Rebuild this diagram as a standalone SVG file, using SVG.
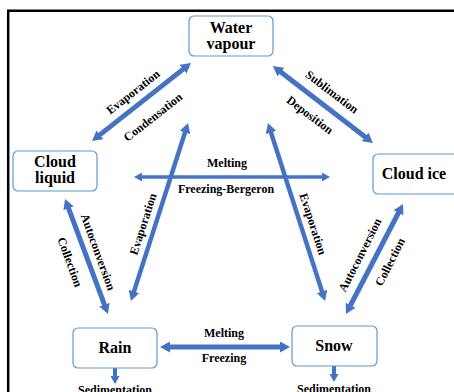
<svg xmlns="http://www.w3.org/2000/svg" width="454" height="392" viewBox="0 0 454 392">
<style>
.node rect{fill:#fff;stroke:#5B9BD5;stroke-width:1.2}
.nt{font-family:"Liberation Serif","Times New Roman",serif;font-weight:bold;font-size:16px;fill:#000;text-anchor:middle}
.lb{font-family:"Liberation Serif","Times New Roman",serif;font-weight:bold;font-size:12px;fill:#000;text-anchor:middle}
.ar{stroke:#4472C4;stroke-width:5;fill:none;marker-start:url(#ah);marker-end:url(#ah)}
.ar2{stroke:#4472C4;stroke-width:3.5;fill:none;marker-start:url(#am);marker-end:url(#am)}
.sd{stroke:#4472C4;stroke-width:4;fill:none;marker-end:url(#sh)}
</style>
<defs>
<marker id="ah" viewBox="0 0 10 11" markerUnits="userSpaceOnUse" markerWidth="10" markerHeight="11" refX="1" refY="5.5" orient="auto-start-reverse">
<path d="M0,0 L10,5.5 L0,11 z" fill="#4472C4"/>
</marker>
<marker id="am" viewBox="0 0 8 9" markerUnits="userSpaceOnUse" markerWidth="8" markerHeight="9" refX="1" refY="4.5" orient="auto-start-reverse">
<path d="M0,0 L8,4.5 L0,9 z" fill="#4472C4"/>
</marker>
<marker id="sh" viewBox="0 0 8 9" markerUnits="userSpaceOnUse" markerWidth="8" markerHeight="9" refX="1" refY="4.5" orient="auto">
<path d="M0,0 L8,4.5 L0,9 z" fill="#4472C4"/>
</marker>
</defs>
<rect width="454" height="392" fill="#fff"/>
<path d="M8.2,395 V10.7 H456" fill="none" stroke="#000" stroke-width="2.5"/>
<g id="connectors">
<line class="ar" x1="99.1" y1="135.4" x2="183.9" y2="68.6"/>
<line class="ar" x1="280.1" y1="71.5" x2="365.9" y2="137.5"/>
<line class="ar" x1="68.2" y1="207.4" x2="104.8" y2="305.6"/>
<line class="ar" style="stroke-width:4.5" x1="185.3" y1="131.6" x2="133.7" y2="292.4"/>
<line class="ar" style="stroke-width:4.5" x1="270.7" y1="131.6" x2="322.3" y2="292.4"/>
<line class="ar" x1="398.9" y1="212" x2="350.1" y2="306"/>
<line class="ar2" x1="141" y1="177" x2="323" y2="177"/>
<line class="ar" x1="169" y1="347" x2="281" y2="347"/>
<line class="sd" x1="115" y1="368" x2="115" y2="377"/>
<line class="sd" x1="334" y1="366" x2="334" y2="375"/>
<text class="lb" transform="translate(133,92) rotate(-38)" y="4">Evaporation</text>
<text class="lb" transform="translate(153,117) rotate(-38)" y="4">Condensation</text>
<text class="lb" transform="translate(332,92) rotate(37)" y="4">Sublimation</text>
<text class="lb" transform="translate(310,115) rotate(37)" y="4">Deposition</text>
<text class="lb" transform="translate(98,252) rotate(70)" y="4">Autoconversion</text>
<text class="lb" transform="translate(70,262) rotate(70)" y="4">Collection</text>
<text class="lb" transform="translate(143,224) rotate(-72)" y="4">Evaporation</text>
<text class="lb" transform="translate(313,224) rotate(72)" y="4">Evaporation</text>
<text class="lb" transform="translate(360,255) rotate(-63)" y="4">Autoconversion</text>
<text class="lb" transform="translate(390,262) rotate(-63)" y="4">Collection</text>
<text class="lb" x="227" y="167">Melting</text>
<text class="lb" x="226" y="193">Freezing-Bergeron</text>
<text class="lb" x="224" y="337">Melting</text>
<text class="lb" x="224" y="362">Freezing</text>
<text class="lb" x="115" y="394">Sedimentation</text>
<text class="lb" x="334" y="393">Sedimentation</text>
</g>
<g id="water-vapour" class="node">
<rect x="189" y="16" width="84" height="40" rx="5"/>
<text class="nt" x="231" y="33">Water</text>
<text class="nt" x="231" y="49">vapour</text>
</g>
<g id="cloud-liquid" class="node">
<rect x="13" y="151" width="84" height="40" rx="5"/>
<text class="nt" x="55" y="167">Cloud</text>
<text class="nt" x="55" y="183">liquid</text>
</g>
<g id="cloud-ice" class="node">
<rect x="373" y="154" width="86" height="40" rx="5"/>
<text class="nt" x="414" y="179">Cloud ice</text>
</g>
<g id="rain" class="node">
<rect x="73" y="328" width="84" height="40" rx="5"/>
<text class="nt" x="115" y="353">Rain</text>
</g>
<g id="snow" class="node">
<rect x="292" y="326" width="85" height="40" rx="5"/>
<text class="nt" x="334" y="351">Snow</text>
</g>
</svg>
